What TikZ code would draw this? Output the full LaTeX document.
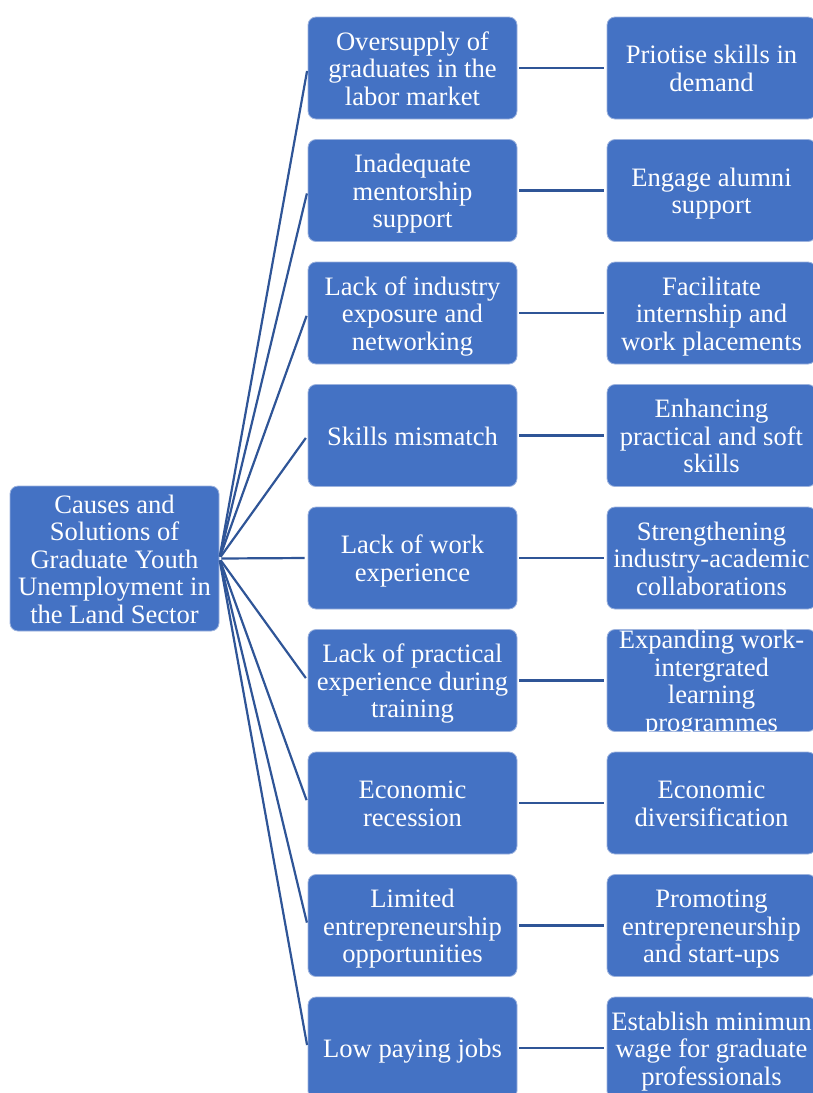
\documentclass[tikz,border=0pt]{standalone}
\usepackage{fontspec}
\setmainfont{Liberation Serif}
\definecolor{boxfill}{HTML}{4472C4}
\definecolor{boxedge}{HTML}{9DB3DE}
\definecolor{conncol}{HTML}{2F5597}
\newcommand\toprl{\rule{0pt}{25pt}}
\newcommand\botrl{\rule[-6pt]{0pt}{6pt}}
\begin{document}
\begin{tikzpicture}[x=1pt,y=-1pt,
  txt/.style={inner sep=0pt, align=center, text=white, font=\fontsize{26.6}{27.5}\selectfont},
  box/.style={txt, rectangle, rounded corners=8pt, fill=boxfill, draw=boxedge, line width=0.8pt,
    minimum width=209pt, minimum height=102pt},
  bigbox/.style={box, minimum height=145pt},
  conn/.style={draw=conncol, line width=2.2pt, shorten <=2pt, shorten >=3pt}]
\useasboundingbox (0,0) rectangle (813,1093);
\clip (0,0) rectangle (813,1093);

\node[bigbox] (L) at (114.5,558.5) {\toprl Causes and\\Solutions of\\Graduate Youth\\Unemployment in\\the Land Sector\botrl};

\node[box] (m1) at (412.5,68) {\toprl Oversupply of\\graduates in the\\labor market\botrl};
\node[box] (m2) at (412.5,190.5) {\toprl Inadequate\\mentorship\\support\botrl};
\node[box] (m3) at (412.5,313) {\toprl Lack of industry\\exposure and\\networking\botrl};
\node[box] (m4) at (412.5,435.5) {\toprl Skills mismatch\botrl};
\node[box] (m5) at (412.5,558) {\toprl Lack of work\\experience\botrl};
\node[box] (m6) at (412.5,680.5) {\toprl Lack of practical\\experience during\\training\botrl};
\node[box] (m7) at (412.5,803) {\toprl Economic\\recession\botrl};
\node[box] (m8) at (412.5,925.5) {\toprl Limited\\entrepreneurship\\opportunities\botrl};
\node[box] (m9) at (412.5,1048) {\toprl Low paying jobs\botrl};

\node[box] (r1) at (711.5,68) {\toprl Priotise skills in\\demand\botrl};
\node[box] (r2) at (711.5,190.5) {\toprl Engage alumni\\support\botrl};
\node[box] (r3) at (711.5,313) {\toprl Facilitate\\internship and\\work placements\botrl};
\node[box] (r4) at (711.5,435.5) {\toprl Enhancing\\practical and soft\\skills\botrl};
\node[box] (r5) at (711.5,558) {\toprl Strengthening\\industry-academic\\collaborations\botrl};
\node[box] (r6) at (711.5,680.5) {};
\begin{scope}
  \clip[rounded corners=8pt] (r6.south west) rectangle (r6.north east);
  \node[txt] (r6t) at (r6.center) {\toprl Expanding work-\\intergrated\\learning\\programmes\botrl};
\end{scope}
\node[box] (r7) at (711.5,803) {\toprl Economic\\diversification\botrl};
\node[box] (r8) at (711.5,925.5) {\toprl Promoting\\entrepreneurship\\and start-ups\botrl};
\node[box] (r9) at (711.5,1048) {\toprl Establish minimun\\wage for graduate\\professionals\botrl};

\foreach \i in {1,...,9} {
  \draw[conn] (L.east) -- (m\i.west);
  \draw[conn] (m\i.east) -- (r\i.west);
}
\end{tikzpicture}
\end{document}
